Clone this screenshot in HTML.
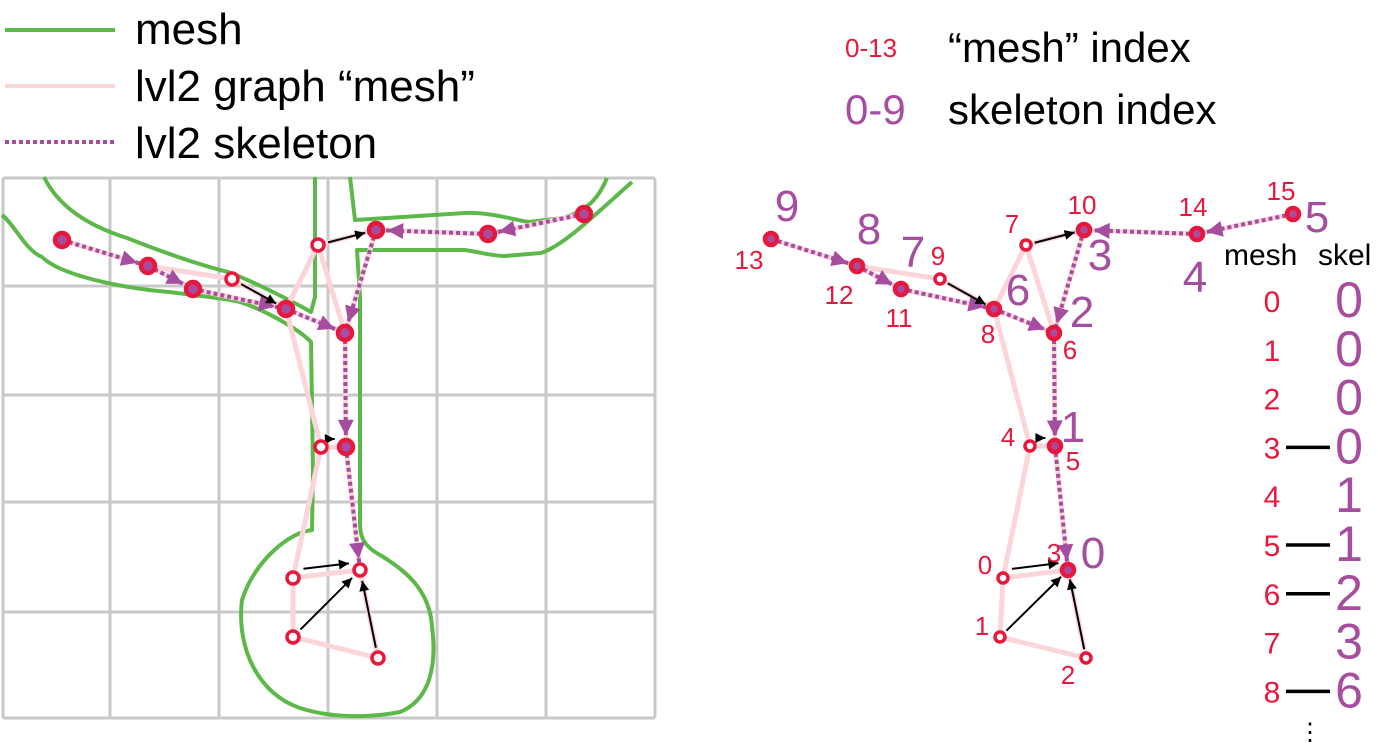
<!DOCTYPE html>
<html><head><meta charset="utf-8"><style>
html,body{margin:0;padding:0;background:#fff;}
svg{display:block;font-family:"Liberation Sans",sans-serif;}
</style></head><body>
<svg id="c" width="1378" height="748" viewBox="0 0 1378 748">
<g id="grid" stroke="#c8c8c8" stroke-width="3"></g>
<g id="mesh" fill="none" stroke="#5db84a" stroke-width="4" stroke-linejoin="round">
<path d="M44,177 C60,210 95,228 127,238 C170,255 200,265 228,272 C250,280 290,300 311,312 L315,297 L315,177"/>
<path d="M2,215 C15,225 25,250 42,257 C60,275 120,288 169,292 C200,296 225,298 240,302 C265,310 300,330 311,342 L313,470 L312,530 C290,532 255,560 242,600 C236,650 260,695 300,708 C330,718 370,718 400,712 C430,700 437,665 432,627 C430,590 405,570 380,555 C362,545 360,535 360,523 L360,297 L357,250 L465,250 C480,252 491,256 505,256 L541,253 C565,245 600,210 632,182"/>
<path d="M350,177 L355,220 L465,213 C490,212 515,220 529,222 L563,218 C590,210 600,195 607,178"/>
</g>
<g id="left"></g>
<g id="right"></g>
<g>
<line x1="5" y1="30" x2="115" y2="30" stroke="#5db84a" stroke-width="4"/>
<text x="135" y="44" font-size="44">mesh</text>
<line x1="5" y1="86" x2="115" y2="86" stroke="#fcd5da" stroke-width="4"/>
<text x="135" y="101" font-size="44">lvl2 graph “mesh”</text>
<line x1="5" y1="142" x2="115" y2="142" stroke="#a64d9f" stroke-width="4" stroke-dasharray="4,3"/>
<text x="135" y="158" font-size="44">lvl2 skeleton</text>
<text x="845" y="57" font-size="26" fill="#e8173c">0-13</text>
<text x="948" y="62" font-size="42">“mesh” index</text>
<text x="845" y="124" font-size="42" fill="#a64d9f">0-9</text>
<text x="948" y="124" font-size="42">skeleton index</text>
</g>
<g id="table">
<text x="1224" y="265" font-size="30">mesh</text>
<text x="1318" y="265" font-size="30">skel</text>
<text x="1310" y="740" font-size="24" text-anchor="middle">⋮</text>
</g>
</svg>
<script>
const NS="http://www.w3.org/2000/svg";
const gridX=[3,110,219,328,437,546,655];
const gridY=[178,286,395,502,612,718];
const leftPts=[[293,578],[293,637],[378,658],[360,570],[321,447],[346,447],[345,333],[318,245],[286,309],[232,279],[376,230],[193,289],[148,266],[62,240],[488,234],[584,214]];
const rightPts=[[1003,578],[1000,637],[1086,658],[1068,570],[1030,446],[1055,446],[1054,333],[1026,245],[994,309],[940,279],[1084,230],[901,289],[857,266],[771,239],[1197,234],[1293,214]];
const openNodes=[0,1,2,4,7,9];
const leftOpen=[0,1,2,3,4,7,9];
const pinkEdges=[[13,12],[12,9],[9,8],[12,11],[11,8],[8,7],[7,10],[7,6],[8,6],[8,4],[4,5],[4,0],[0,1],[1,2],[2,3],[0,3],[3,5],[5,6],[10,6],[14,10],[15,14]];
const skelEdges=[[13,12],[12,11],[11,8],[8,6],[15,14],[14,10],[10,6],[6,5],[5,3]];
const blackArrows=[[9,8],[7,10],[4,5],[0,3],[1,3],[2,3]];
const meshLabels=[[0,-18,-4],[1,-18,-2],[2,-18,26],[3,-14,-8],[4,-22,0],[5,18,24],[6,16,26],[7,-14,-12],[8,-6,34],[9,-2,-14],[10,-2,-16],[11,-2,38],[12,-18,38],[13,-22,30],[14,-4,-18],[15,-12,-14]];
const skelLabels=[["0",3,25,-2],["1",5,18,-4],["2",6,28,-6],["3",10,16,40],["4",14,-2,58],["5",15,24,18],["6",8,24,-4],["7",11,12,-22],["8",12,12,-22],["9",13,16,-18]];
const tableMesh=["0","1","2","3","4","5","6","7","8"];
const tableSkel=["0","0","0","0","1","1","2","3","6"];
const tableLinked=[3,5,6,8];

function el(t,a,p){const e=document.createElementNS(NS,t);for(const k in a)e.setAttribute(k,a[k]);p.appendChild(e);return e;}
const grid=document.getElementById('grid');
gridX.forEach(x=>{const l=el('line',{x1:x,y1:gridY[0],x2:x,y2:gridY[gridY.length-1]},grid);

});
gridY.forEach(y=>{const l=el('line',{x1:gridX[0],y1:y,x2:gridX[gridX.length-1],y2:y},grid);

});

function drawGraph(g,P,open,r){
  pinkEdges.forEach(([a,b])=>{const l=el('line',{x1:P[a][0],y1:P[a][1],x2:P[b][0],y2:P[b][1],stroke:'#fcd5da','stroke-width':5},g);
  
  });
  skelEdges.forEach(([a,b])=>{const [x1,y1]=P[a],[x2,y2]=P[b];const d=Math.hypot(x2-x1,y2-y1),ux=(x2-x1)/d,uy=(y2-y1)/d;
    const l=el('line',{x1,y1,x2,y2,stroke:'#a64d9f','stroke-width':4,'stroke-dasharray':'4,3'},g);
    
    
    const tx=x2-ux*r*1.6,ty=y2-uy*r*1.6,px=-uy,py=ux;
    const t=el('polygon',{points:`${tx},${ty} ${tx-ux*16+px*8},${ty-uy*16+py*8} ${tx-ux*16-px*8},${ty-uy*16-py*8}`,fill:'#a64d9f'},g);
    
    });
  blackArrows.forEach(([a,b])=>{const [x1,y1]=P[a],[x2,y2]=P[b];const d=Math.hypot(x2-x1,y2-y1),ux=(x2-x1)/d,uy=(y2-y1)/d;
    const sx=x1+ux*r*1.5,sy=y1+uy*r*1.5-(Math.abs(uy)<0.2?8:0),ex=x2-ux*r*1.6,ey=y2-uy*r*1.6-(Math.abs(uy)<0.2?8:0);
    const l=el('line',{x1:sx,y1:sy,x2:ex,y2:ey,stroke:'#000','stroke-width':2},g);
    
    
    const px=-uy,py=ux;
    const t=el('polygon',{points:`${ex},${ey} ${ex-ux*10+px*5},${ey-uy*10+py*5} ${ex-ux*10-px*5},${ey-uy*10-py*5}`,fill:'#000'},g);
    
    });
  P.forEach((p,i)=>{const isOpen=open.includes(i);
    const c=el('circle',{cx:p[0],cy:p[1],r:isOpen?r-1:r,fill:isOpen?'#fff':'#a64d9f',stroke:'#e8173c','stroke-width':isOpen?3.5:4.5},g);
    
    });
}
drawGraph(document.getElementById('left'),leftPts,leftOpen,7);
const R=document.getElementById('right');
drawGraph(R,rightPts,openNodes,6);
meshLabels.forEach(([i,dx,dy])=>{const t=el('text',{x:rightPts[i][0]+dx,y:rightPts[i][1]+dy,'font-size':26,fill:'#e8173c','text-anchor':'middle'},R);t.textContent=String(i);

});
skelLabels.forEach(([s,i,dx,dy])=>{const t=el('text',{x:rightPts[i][0]+dx,y:rightPts[i][1]+dy,'font-size':44,fill:'#a64d9f','text-anchor':'middle'},R);t.textContent=s;

});
const T=document.getElementById('table');
tableMesh.forEach((m,k)=>{const y=312+k*48.8;
  const a=el('text',{x:1272,y:y,'font-size':30,fill:'#e8173c','text-anchor':'middle'},T);a.textContent=m;
  
  
  const b=el('text',{x:1349,y:y+5,'font-size':50,fill:'#a64d9f','text-anchor':'middle'},T);b.textContent=tableSkel[k];
  
  
  if(tableLinked.includes(k)){const l=el('line',{x1:1286,y1:y-11,x2:1330,y2:y-11,stroke:'#000','stroke-width':3.5},T);
  
  }
});
</script>
</body></html>
